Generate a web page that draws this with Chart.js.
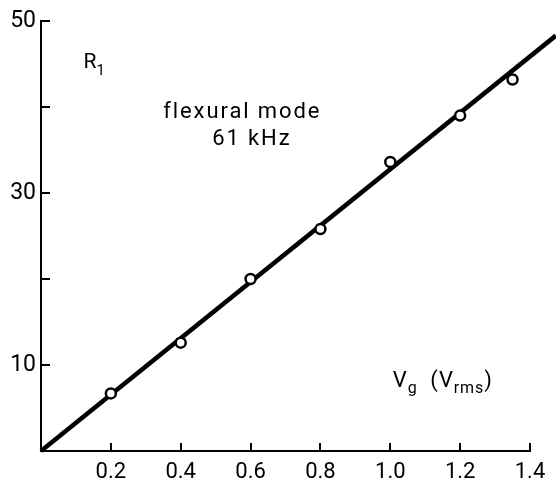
<!DOCTYPE html>
<html>
<head>
<meta charset="utf-8">
<script src="https://cdn.jsdelivr.net/npm/chart.js@4"></script>
<style>
  html, body { margin: 0; padding: 0; background: #fff; }
  #wrap { width: 556px; height: 483px; }
</style>
</head>
<body>
<div id="wrap"><canvas id="c"></canvas></div>
<script>
// ---- measured points (R1 vs Vg) ----
const vg = [0.2, 0.4, 0.6, 0.8, 1.0, 1.2, 1.35];
const r1 = [6.7, 12.6, 20.0, 25.8, 33.6, 39.0, 43.2];

// ---- fitted straight line, runs past the end of the x axis ----
const fitX = [0, 1.474];
const fitY = [0, 48.3];

// ---- tick labels shown ----
const yLabels = [10, 30, 50];
const xTicks = [0.2, 0.4, 0.6, 0.8, 1.0, 1.2, 1.4];
const yTicks = [10, 20, 30, 40, 50];

const FONT = 'Roboto, "Liberation Sans", Arial, sans-serif';

// inward tick marks + text labels
const decorations = {
    id: 'decorations',
    afterDraw(chart) {
        const ctx = chart.ctx;
        const x = chart.scales.x, y = chart.scales.y;
        const a = chart.chartArea;
        ctx.save();
        ctx.strokeStyle = '#000';
        ctx.lineWidth = 2;
        ctx.beginPath();
        yTicks.forEach(v => {
            const py = Math.round(y.getPixelForValue(v));
            ctx.moveTo(a.left, py);
            ctx.lineTo(a.left + 9, py);
        });
        xTicks.forEach(v => {
            const px = Math.round(x.getPixelForValue(v));
            ctx.moveTo(px, a.bottom);
            ctx.lineTo(px, a.bottom - 8);
        });
        ctx.stroke();

        // text with optional subscripts
        ctx.fillStyle = '#000';
        ctx.textBaseline = 'alphabetic';
        const write = (vx, vy, parts, size, spacing) => {
            let px = x.getPixelForValue(vx);
            const py = y.getPixelForValue(vy);
            ctx.letterSpacing = (spacing || 0) + 'px';
            parts.forEach(([t, sub]) => {
                ctx.font = (sub ? Math.round(size * 0.72) : size) + 'px ' + FONT;
                ctx.fillText(t, px, sub ? py + size * 0.3 : py);
                px += ctx.measureText(t).width;
            });
            ctx.letterSpacing = '0px';
        };
        write(0.122, 44.5, [['R', 0], ['1', 1]], 21, 0);
        write(0.35, 38.7, [['flexural mode', 0]], 22, 1.9);
        write(0.49, 35.6, [['61 kHz', 0]], 22, 1.9);
        write(1.007, 7.5, [['V', 0], ['g', 1], ['  (V', 0], ['rms', 1], [')', 0]], 22, 0.9);
        ctx.restore();
    }
};

new Chart(document.getElementById('c'), {
    data: {
        datasets: [
            {
                type: 'line',
                data: fitX.map((v, i) => ({ x: v, y: fitY[i] })),
                borderColor: '#000',
                borderWidth: 4.5,
                pointRadius: 0,
                clip: false,
                order: 2
            },
            {
                type: 'scatter',
                data: vg.map((v, i) => ({ x: v, y: r1[i] })),
                pointStyle: 'circle',
                pointRadius: 5,
                pointBorderWidth: 2.5,
                pointBorderColor: '#000',
                pointBackgroundColor: '#fff',
                clip: false,
                order: 1
            }
        ]
    },
    options: {
        responsive: true,
        maintainAspectRatio: false,
        animation: false,
        layout: { padding: { left: 0, right: 26, top: 21, bottom: 0 } },
        plugins: { legend: { display: false }, tooltip: { enabled: false } },
        scales: {
            x: {
                type: 'linear',
                min: 0, max: 1.4,
                afterFit: s => { s.height = 32; },
                border: { color: '#000', width: 2 },
                grid: { display: false, drawTicks: false },
                ticks: {
                    stepSize: 0.2,
                    padding: 8,
                    color: '#000',
                    font: { family: FONT, size: 22 },
                    maxRotation: 0,
                    callback: v => (Math.abs(v) < 1e-9 ? '' : v.toFixed(1))
                }
            },
            y: {
                type: 'linear',
                min: 0, max: 50,
                afterFit: s => { s.width = 41; },
                border: { color: '#000', width: 2 },
                grid: { display: false, drawTicks: false },
                ticks: {
                    stepSize: 10,
                    padding: 5,
                    color: '#000',
                    font: { family: FONT, size: 23 },
                    callback: v => (yLabels.includes(v) ? String(v) : '')
                }
            }
        }
    },
    plugins: [decorations]
});
</script>
</body>
</html>
